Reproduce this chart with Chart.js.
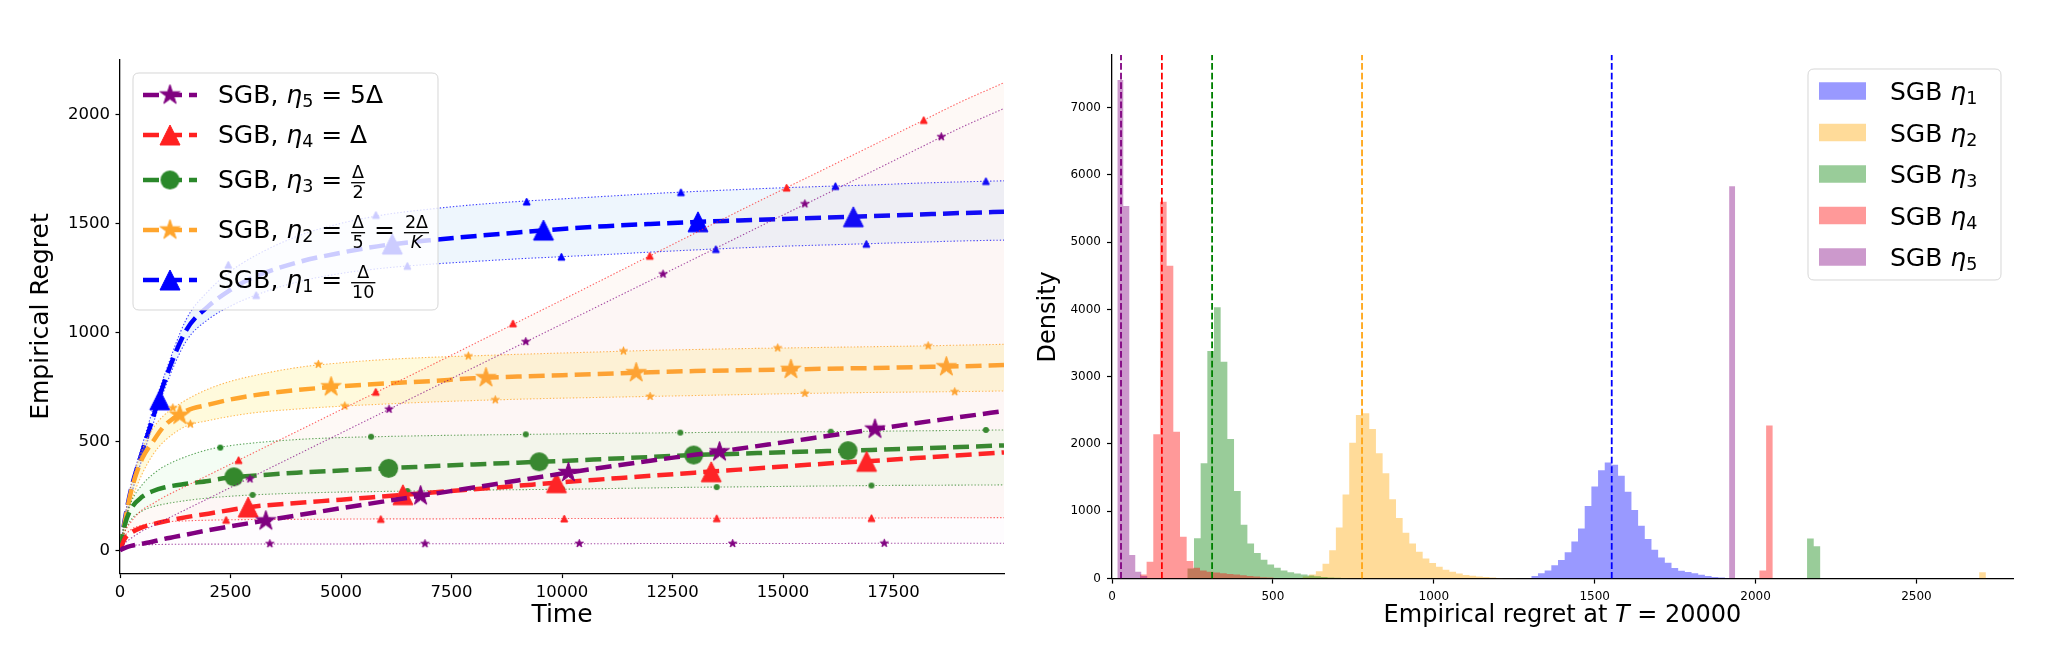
<!DOCTYPE html>
<html><head><meta charset="utf-8">
<script src="https://cdn.jsdelivr.net/npm/chart.js@4.4.1/dist/chart.umd.min.js"></script>
<style>
html,body{margin:0;padding:0;background:#fff;width:2070px;height:650px;overflow:hidden}
#c1{position:absolute;left:0;top:0;width:1030px;height:650px}
#c2{position:absolute;left:1030px;top:0;width:1040px;height:650px}
</style></head><body>
<canvas id="c1" width="1030" height="650"></canvas>
<canvas id="c2" width="1040" height="650"></canvas>
<script>
// ---------------- LEFT PANEL DATA ----------------
const T = [0,100,250,500,750,1000,1500,2000,2500,3000,4000,5000,6000,7000,8000,9000,10000,11000,12000,13000,14000,15000,16000,17000,18000,19000,19999];
const eta1Mean = [0,130,280,450,610,770,1010,1120,1195,1250,1320,1365,1400,1422,1441,1458,1474,1487,1497,1506,1513,1520,1527,1533,1540,1547,1553];
const eta1Up   = [0,140,300,480,650,800,1060,1190,1280,1345,1440,1500,1540,1565,1585,1600,1612,1624,1636,1646,1655,1663,1670,1676,1684,1690,1695];
const eta1Lo   = [0,110,250,420,580,735,960,1060,1120,1165,1230,1270,1295,1312,1325,1337,1347,1357,1368,1378,1387,1395,1401,1407,1413,1419,1423];
const eta2Mean = [0,120,270,420,500,570,640,668,692,710,735,752,765,776,789,797,803,810,817,822,826,829,833,836,840,844,850];
const eta2Up   = [0,130,290,460,560,620,690,740,775,800,838,860,875,885,892,899,905,911,917,921,925,928,931,934,937,941,945];
const eta2Lo   = [0,100,220,350,440,500,570,595,615,630,648,661,671,680,687,693,698,702,706,710,714,718,721,724,726,728,731];
const eta3Mean = [0,110,190,245,272,288,305,318,335,342,356,366,376,385,394,402,410,419,428,437,443,450,455,460,467,474,481];
const eta3Up   = [0,120,220,300,350,385,430,462,480,492,508,517,522,526,529,531,534,536,538,540,542,543,544,546,548,550,552];
const eta3Lo   = [0,80,140,180,200,212,228,240,248,254,262,267,270,273,276,278,280,283,286,289,291,293,295,297,298,299,300];
const eta4Mean = [0,50,80,105,120,132,152,168,185,200,217,232,248,264,280,296,312,327,342,356,370,384,398,410,423,436,449];
const eta4Up   = [0,80,130,185,215,245,295,345,395,445,545,645,745,845,946,1047,1148,1250,1352,1454,1556,1656,1755,1855,1955,2055,2145];
const eta4Lo   = [0,60,95,115,125,130,135,138,140,141,142,143,144,144,145,145,146,146,147,147,147,148,148,148,149,149,150];
const eta5Mean = [0,10,20,30,40,52,72,92,110,127,160,193,225,256,288,320,352,382,411,438,466,495,524,553,583,611,639];
const eta5Up   = [0,30,55,88,113,138,188,238,288,338,438,538,638,738,838,938,1038,1138,1238,1338,1438,1538,1637,1737,1837,1937,2027];
const eta5Lo   = [0,15,22,25,26,27,28,28,28,29,29,29,30,30,30,30,30,30,31,31,31,31,31,32,32,32,32];

// marker positions (time, regret)
const eta1MarkT = [900,6160,9580,13075,16590];        const eta1MarkV = [690,1405,1469,1507,1530];
const eta1UpMarkT = [2450,5790,9200,12690,16185,19590]; const eta1UpMarkV = [1310,1539,1600,1643,1671,1694];
const eta1LoMarkT = [3080,6500,9986,13480,16885];     const eta1LoMarkV = [1171,1305,1347,1382,1406];
const eta2MarkT = [1352,4775,8280,11677,15178,18695]; const eta2MarkV = [620,750,792,815,830,842];
const eta2UpMarkT = [1196,4487,7880,11390,14880,18283]; const eta2UpMarkV = [653,853,891,914,928,938];
const eta2LoMarkT = [1592,5086,8490,11993,15494,18884]; const eta2LoMarkV = [579,662,690,706,720,727];
const eta3MarkT = [2577,6078,9482,12980,16470];       const eta3MarkV = [337,376,406,437,457];
const eta3UpMarkT = [2268,5681,9180,12676,16080,19590]; const eta3UpMarkV = [471,521,532,540,544,552];
const eta3LoMarkT = [3000,6500,10000,13500,17000];    const eta3LoMarkV = [254,272,280,290,297];
const eta4MarkT = [2900,6400,9875,13375,16890];       const eta4MarkV = [198,255,310,360,408];
const eta4UpMarkT = [2683,5786,8890,11985,15081,18183]; const eta4UpMarkV = [414,727,1041,1351,1664,1974];
const eta4LoMarkT = [2400,5900,10050,13500,17000];    const eta4LoMarkV = [140,144,146,147,148];
const eta5MarkT = [3300,6800,10144,13563,17080];      const eta5MarkV = [135,250,357,452,556];
const eta5UpMarkT = [2940,6087,9180,12285,15494,18580]; const eta5UpMarkV = [327,647,957,1267,1589,1897];
const eta5LoMarkT = [3390,6900,10390,13860,17290];    const eta5LoMarkV = [30,30,31,31,32];

const leftXTicks = [0,2500,5000,7500,10000,12500,15000,17500];
const leftYTicks = [0,500,1000,1500,2000];

// ---------------- RIGHT PANEL DATA ----------------
const binW = 20.75;
const blueStart = 1303;
const blueDens = [40,80,120,200,275,390,550,745,1080,1370,1610,1725,1690,1530,1290,1020,785,590,430,315,235,157,118,98,78,59,39,25,15,10];
const orangeStart = 592;
const orangeDens = [30,60,110,220,420,760,1250,2020,2431,2456,2222,1862,1565,1180,900,680,520,400,300,230,175,130,100,75,55,42,30,22,15,10,7,5];
const orangeFarStart = 2695; const orangeFarDens = [95];
const greenStart = 234;
const greenDens = [150,600,1713,3382,4031,3223,2074,1300,800,520,380,280,210,160,120,95,75,60,45,35,25,18,12,8];
const greenFarStart = 2160; const greenFarDens = [594,480];
const redStart = 86.8;
const redDens = [60,250,2144,5600,4650,2183,620,260,160,120,100,90,80,70,60,50,40,30,20,15];
const redFarStart = 2012; const redFarDens = [120,2275];
const purpleStart = 16.5; const purpleW = 18.6;
const purpleDens = [7409,5537,350,100,40];
const purpleFarStart = 1918; const purpleFarDens = [5830];
const medianLines = [1553,777,311,155,28];
const rightXTicks = [0,500,1000,1500,2000,2500];
const rightYTicks = [0,1000,2000,3000,4000,5000,6000,7000];

// ---------------- helpers ----------------
Chart.defaults.font.family = '"DejaVu Sans", sans-serif';
Chart.defaults.color = '#000';
const FF = '"DejaVu Sans", sans-serif';
function mkCanvas(w,h){const c=document.createElement('canvas');c.width=w;c.height=h;return c;}
function triImg(ms,color){const S=Math.ceil(ms+4);const c=mkCanvas(S,S),g=c.getContext('2d');const o=(S-ms)/2;g.beginPath();g.moveTo(S/2,o);g.lineTo(o+ms,o+ms);g.lineTo(o,o+ms);g.closePath();g.fillStyle=color;g.fill();g.lineWidth=1;g.strokeStyle=color;g.stroke();return c;}
function starImg(ms,color){const R=ms/2,r=R*0.381966,S=Math.ceil(ms+4);const c=mkCanvas(S,S),g=c.getContext('2d');const cx=S/2,cy=S/2;g.beginPath();for(let k=0;k<10;k++){const a=-Math.PI/2+k*Math.PI/5;const rr=k%2?r:R;g.lineTo(cx+rr*Math.cos(a),cy+rr*Math.sin(a));}g.closePath();g.fillStyle=color;g.fill();g.lineWidth=1;g.strokeStyle=color;g.stroke();return c;}
function dotImg(ms,color){const S=Math.ceil(ms+4);const c=mkCanvas(S,S),g=c.getContext('2d');g.beginPath();g.arc(S/2,S/2,ms/2,0,Math.PI*2);g.fillStyle=color;g.fill();return c;}
function fnt(size,it){return (it?'italic ':'')+size+'px '+FF;}
function measureSegs(ctx,segs,size){let w=0;for(const s of segs){if(s.frac){const a=measureSegs(ctx,s.frac[0],size*0.7),b=measureSegs(ctx,s.frac[1],size*0.7);w+=Math.max(a,b)+size*0.16;}else{const sz=s.sub?size*0.7:size;ctx.font=fnt(sz,s.it);w+=ctx.measureText(s.t).width;}}return w;}
function drawSegs(ctx,x,y,segs,size,color){
  ctx.fillStyle=color;ctx.textBaseline='alphabetic';ctx.textAlign='left';
  for(const s of segs){
    if(s.frac){
      const fs=size*0.7;const wa=measureSegs(ctx,s.frac[0],fs),wb=measureSegs(ctx,s.frac[1],fs);
      const fw=Math.max(wa,wb)+size*0.08;const pad=size*0.08;const barY=y-size*0.224;
      ctx.fillStyle=color;ctx.fillRect(x+pad*0.5,barY-0.65,fw,1.3);
      drawSegs(ctx,x+pad*0.5+(fw-wa)/2,barY-size*0.176,s.frac[0],fs,color);
      drawSegs(ctx,x+pad*0.5+(fw-wb)/2,barY+size*0.624,s.frac[1],fs,color);
      x+=fw+pad;
    }else{
      const sz=s.sub?size*0.7:size;ctx.font=fnt(sz,s.it);ctx.fillStyle=color;
      ctx.fillText(s.t,x,y+(s.sub?size*0.16:0));x+=ctx.measureText(s.t).width;
    }
  }
  return x;
}
function roundRect(ctx,x,y,w,h,r){ctx.beginPath();ctx.moveTo(x+r,y);ctx.lineTo(x+w-r,y);ctx.quadraticCurveTo(x+w,y,x+w,y+r);ctx.lineTo(x+w,y+h-r);ctx.quadraticCurveTo(x+w,y+h,x+w-r,y+h);ctx.lineTo(x+r,y+h);ctx.quadraticCurveTo(x,y+h,x,y+h-r);ctx.lineTo(x,y+r);ctx.quadraticCurveTo(x,y,x+r,y);ctx.closePath();}

// ---------------- LEFT CHART ----------------
const C1='#0000ff', C2='rgb(255,165,45)', C3='#2a882a', C4='#ff2020', C5='#800080';
const series = [
 {color:C1, band:'rgba(0,0,255,0.75)', fill:'rgba(100,170,240,0.11)', mean:eta1Mean, up:eta1Up, lo:eta1Lo, big:triImg(20,C1), small:triImg(7,C1), mT:eta1MarkT,mV:eta1MarkV,uT:eta1UpMarkT,uV:eta1UpMarkV,lT:eta1LoMarkT,lV:eta1LoMarkV},
 {color:C2, band:'rgba(255,165,45,0.8)', fill:'rgba(255,228,80,0.2)', mean:eta2Mean, up:eta2Up, lo:eta2Lo, big:starImg(21,C2), small:starImg(8.5,C2), mT:eta2MarkT,mV:eta2MarkV,uT:eta2UpMarkT,uV:eta2UpMarkV,lT:eta2LoMarkT,lV:eta2LoMarkV},
 {color:C3, band:'rgba(42,136,42,0.75)', fill:'rgba(110,235,110,0.08)', mean:eta3Mean, up:eta3Up, lo:eta3Lo, big:dotImg(19,C3), small:dotImg(6,C3), mT:eta3MarkT,mV:eta3MarkV,uT:eta3UpMarkT,uV:eta3UpMarkV,lT:eta3LoMarkT,lV:eta3LoMarkV},
 {color:C4, band:'rgba(255,32,32,0.7)', fill:'rgba(240,150,100,0.055)', mean:eta4Mean, up:eta4Up, lo:eta4Lo, big:triImg(20,C4), small:triImg(7,C4), mT:eta4MarkT,mV:eta4MarkV,uT:eta4UpMarkT,uV:eta4UpMarkV,lT:eta4LoMarkT,lV:eta4LoMarkV},
 {color:C5, band:'rgba(128,0,128,0.7)', fill:'rgba(235,170,220,0.03)', mean:eta5Mean, up:eta5Up, lo:eta5Lo, big:starImg(21,C5), small:starImg(8.5,C5), mT:eta5MarkT,mV:eta5MarkV,uT:eta5UpMarkT,uV:eta5UpMarkV,lT:eta5LoMarkT,lV:eta5LoMarkV}
];
const leftDatasets=[];
const pts=arr=>T.map((t,j)=>({x:t,y:arr[j]}));
const mk=(ts,vs)=>ts.map((t,j)=>({x:t,y:vs[j]}));
series.forEach((s,k)=>{
  const b=(5-k)*10;
  const iLo=leftDatasets.length;
  leftDatasets.push({data:pts(s.lo),borderColor:s.band,borderWidth:1.1,borderDash:[1.4,1.9],pointRadius:0,fill:false,order:b+4,cubicInterpolationMode:'monotone'});
  leftDatasets.push({data:pts(s.up),borderColor:s.band,borderWidth:1.1,borderDash:[1.4,1.9],pointRadius:0,fill:{target:iLo},backgroundColor:s.fill,order:b+3,cubicInterpolationMode:'monotone'});
  leftDatasets.push({data:mk(s.lT,s.lV),showLine:false,pointStyle:s.small,pointRadius:4,order:b+2});
  leftDatasets.push({data:mk(s.uT,s.uV),showLine:false,pointStyle:s.small,pointRadius:4,order:b+2});
  leftDatasets.push({data:pts(s.mean),borderColor:s.color,borderWidth:4.5,borderDash:[16,7],pointRadius:0,fill:false,order:b+1,cubicInterpolationMode:'monotone'});
  leftDatasets.push({data:mk(s.mT,s.mV),showLine:false,pointStyle:s.big,pointRadius:10,order:b});
});

const legendLeftRows=[
 {k:4,segs:[{t:'SGB, '},{t:'η',it:1},{t:'5',sub:1},{t:' = 5Δ'}]},
 {k:3,segs:[{t:'SGB, '},{t:'η',it:1},{t:'4',sub:1},{t:' = Δ'}]},
 {k:2,segs:[{t:'SGB, '},{t:'η',it:1},{t:'3',sub:1},{t:' = '},{frac:[[{t:'Δ'}],[{t:'2'}]]}]},
 {k:1,segs:[{t:'SGB, '},{t:'η',it:1},{t:'2',sub:1},{t:' = '},{frac:[[{t:'Δ'}],[{t:'5'}]]},{t:' = '},{frac:[[{t:'2Δ'}],[{t:'K',it:1}]]}]},
 {k:0,segs:[{t:'SGB, '},{t:'η',it:1},{t:'1',sub:1},{t:' = '},{frac:[[{t:'Δ'}],[{t:'10'}]]}]}
];
const legendLeftBase=[30.3,70.3,115.3,165.3,215.3];
const leftLegendPlugin={id:'leftLegend',afterDraw(chart){
  const ctx=chart.ctx,ca=chart.chartArea;const bx=ca.left+13,by=ca.top+13.6,bw=305,bh=237;
  ctx.save();roundRect(ctx,bx,by,bw,bh,6);ctx.fillStyle='rgba(255,255,255,0.8)';ctx.fill();ctx.lineWidth=1;ctx.strokeStyle='rgba(204,204,204,0.8)';ctx.stroke();
  legendLeftRows.forEach((r,i)=>{const s=series[r.k];const yb=by+legendLeftBase[i];const yh=yb-8.3;
    ctx.save();ctx.beginPath();ctx.setLineDash([16,7]);ctx.lineWidth=4.5;ctx.strokeStyle=s.color;ctx.moveTo(bx+10,yh);ctx.lineTo(bx+64,yh);ctx.stroke();ctx.restore();
    ctx.drawImage(s.big,bx+37-s.big.width/2,yh-s.big.height/2);
    drawSegs(ctx,bx+85,yb,r.segs,25,'#000');
  });
  ctx.restore();
}};

const axisCommon=(fs,tl,pad)=>({ticks:{font:{size:fs},color:'#000',padding:pad,maxRotation:0,autoSkip:false,callback:v=>String(v)},grid:{display:true,drawOnChartArea:false,drawTicks:true,tickLength:tl,color:'#000',tickColor:'#000',tickWidth:1.2},border:{display:true,color:'#000',width:1.3}});

new Chart(document.getElementById('c1'),{
  type:'line',
  data:{datasets:leftDatasets},
  options:{responsive:false,animation:false,devicePixelRatio:1,
    layout:{padding:{left:0,top:59.4,right:26,bottom:0}},
    plugins:{legend:{display:false},tooltip:{enabled:false}},
    scales:{
      x:Object.assign(axisCommon(16.5,4.5,5),{type:'linear',min:0,max:19999,
        afterBuildTicks:sc=>{sc.ticks=leftXTicks.map(v=>({value:v}));},
        afterFit:sc=>{sc.height=650-573.6;},
        title:{display:true,text:'Time',font:{size:25},color:'#000',padding:{top:0,bottom:20}}}),
      y:Object.assign(axisCommon(16.5,4.5,5.5),{type:'linear',min:-107,max:2252,
        afterBuildTicks:sc=>{sc.ticks=leftYTicks.map(v=>({value:v}));},
        afterFit:sc=>{sc.width=120;},
        title:{display:true,text:'Empirical Regret',font:{size:25},color:'#000',padding:{top:26,bottom:0}}})
    }},
  plugins:[leftLegendPlugin]
});

// ---------------- RIGHT CHART ----------------
function histPts(start,w,dens){const p=dens.map((d,i)=>({x:start+i*w,y:d}));p.push({x:start+dens.length*w,y:0});return p;}
const H1='rgba(0,0,255,0.4)',H2='rgba(255,165,0,0.4)',H3='rgba(0,128,0,0.4)',H4='rgba(255,0,0,0.4)',H5='rgba(128,0,128,0.4)';
const hists=[
 {pts:histPts(blueStart,binW,blueDens),c:H1},
 {pts:histPts(orangeStart,binW,orangeDens).concat(histPts(orangeFarStart,binW,orangeFarDens)),c:H2},
 {pts:histPts(greenStart,binW,greenDens).concat(histPts(greenFarStart,binW,greenFarDens)),c:H3},
 {pts:histPts(redStart,binW,redDens).concat(histPts(redFarStart,binW,redFarDens)),c:H4},
 {pts:histPts(purpleStart,purpleW,purpleDens).concat(histPts(purpleFarStart,purpleW,purpleFarDens)),c:H5}
];
const lineCols=['#0000ff','rgb(255,165,20)','#008000','#ff0000','#800080'];
const rightDatasets=[];
hists.forEach((h,k)=>{rightDatasets.push({data:h.pts,stepped:true,borderWidth:0,borderColor:'rgba(0,0,0,0)',backgroundColor:h.c,fill:'origin',pointRadius:0,order:20-k});});
medianLines.forEach((m,k)=>{rightDatasets.push({data:[{x:m,y:0},{x:m,y:7780}],borderColor:lineCols[k],borderWidth:1.8,borderDash:[6.7,2.9],pointRadius:0,fill:false,order:5-k});});

const rightLegendPlugin={id:'rightLegend',afterDraw(chart){
  const ctx=chart.ctx,ca=chart.chartArea;const bw=193,bh=211;const bx=ca.right-12-bw,by=ca.top+14;
  ctx.save();roundRect(ctx,bx,by,bw,bh,6);ctx.fillStyle='rgba(255,255,255,0.8)';ctx.fill();ctx.lineWidth=1;ctx.strokeStyle='rgba(204,204,204,0.8)';ctx.stroke();
  [H1,H2,H3,H4,H5].forEach((c,i)=>{const yc=by+22+41.5*i;ctx.fillStyle=c;ctx.fillRect(bx+11,yc-8.75,47,17.5);
    drawSegs(ctx,bx+82,yc+9,[{t:'SGB '},{t:'η',it:1},{t:String(i+1),sub:1}],25,'#000');});
  const title=[{t:'Empirical regret at '},{t:'T',it:1},{t:' = 20000'}];
  const w=measureSegs(ctx,title,24);drawSegs(ctx,(ca.left+ca.right)/2-w/2,622,title,24,'#000');
  ctx.restore();
}};

new Chart(document.getElementById('c2'),{
  type:'line',
  data:{datasets:rightDatasets},
  options:{responsive:false,animation:false,devicePixelRatio:1,
    layout:{padding:{left:0,top:55,right:57,bottom:0}},
    plugins:{legend:{display:false},tooltip:{enabled:false}},
    scales:{
      x:Object.assign(axisCommon(12,5,6),{type:'linear',min:0,max:2800,
        afterBuildTicks:sc=>{sc.ticks=rightXTicks.map(v=>({value:v}));},
        afterFit:sc=>{sc.height=650-578.6;}}),
      y:Object.assign(axisCommon(12,5,6),{type:'linear',min:0,max:7780,
        afterBuildTicks:sc=>{sc.ticks=rightYTicks.map(v=>({value:v}));},
        afterFit:sc=>{sc.width=82;},
        title:{display:true,text:'Density',font:{size:24},color:'#000',padding:{top:4,bottom:0}}})
    }},
  plugins:[rightLegendPlugin]
});
</script></body></html>
